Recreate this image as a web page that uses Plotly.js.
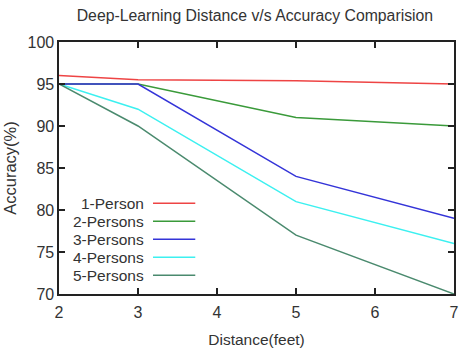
<!DOCTYPE html>
<html>
<head>
<meta charset="utf-8">
<script src="https://cdn.plot.ly/plotly-3.0.1.min.js"></script>
<style>html,body{margin:0;padding:0;background:#fff;}#chart{width:461px;height:350px;}</style>
</head>
<body>
<div id="chart"></div>
<script>
// Distances (feet) at which accuracy was measured
const distances = [2, 3, 5, 7];

// Accuracy (%) per number of persons in frame
const onePerson    = [96, 95.5, 95.4, 95];
const twoPersons   = [95, 95, 91, 90];
const threePersons = [95, 95, 84, 79];
const fourPersons  = [95, 92, 81, 76];
const fivePersons  = [95, 90, 77, 70];

const seriesNames  = ['1-Person', '2-Persons', '3-Persons', '4-Persons', '5-Persons'];
const seriesValues = [onePerson, twoPersons, threePersons, fourPersons, fivePersons];
const seriesColors = ['#ee4444', '#3a9a3a', '#3434d8', '#3cf0f0', '#4a8a6e'];

const xTicks = [2, 3, 4, 5, 6, 7];
const yTicks = [70, 75, 80, 85, 90, 95, 100];

const FONT = 'Liberation Sans, Arial, sans-serif';
const INK = '#333';

const traces = seriesNames.map((name, i) => ({
  x: distances,
  y: seriesValues[i],
  name: name,
  type: 'scatter',
  mode: 'lines',
  line: {color: seriesColors[i], width: 1.5},
  showlegend: false
}));

// Key in the lower-left corner: label on the left, line sample on the right
const keyTop = 0.36, keyStep = 0.0715;
const annotations = [];
const shapes = [];
seriesNames.forEach((name, i) => {
  const yy = keyTop - i * keyStep;
  annotations.push({
    xref: 'paper', yref: 'paper', x: 0.219, y: yy,
    xanchor: 'right', yanchor: 'middle', showarrow: false,
    text: name, font: {family: FONT, size: 15.5, color: INK}
  });
  shapes.push({
    type: 'line', xref: 'paper', yref: 'paper',
    x0: 0.238, x1: 0.345, y0: yy, y1: yy,
    line: {color: seriesColors[i], width: 1.5}
  });
});

const axisCommon = {
  showline: true, mirror: 'allticks', linecolor: '#222', linewidth: 1.6,
  ticks: 'inside', ticklen: 6, tickwidth: 1.2, tickcolor: '#222',
  showgrid: false, zeroline: false,
  tickfont: {family: FONT, size: 16, color: INK}
};

const layout = {
  width: 461, height: 350,
  margin: {l: 59, r: 7, t: 42, b: 56},
  paper_bgcolor: '#fff', plot_bgcolor: '#fff',
  title: {
    text: 'Deep-Learning Distance v/s Accuracy Comparision',
    font: {family: FONT, size: 15.8, color: INK},
    x: 0.553, xanchor: 'center', y: 0.956, yanchor: 'middle'
  },
  xaxis: Object.assign({}, axisCommon, {
    range: [2, 7], tickvals: xTicks, ticktext: xTicks.map(String),
    ticklabelstandoff: 3,
    title: {text: 'Distance(feet)', font: {family: FONT, size: 15.5, color: INK}, standoff: 14}
  }),
  yaxis: Object.assign({}, axisCommon, {
    range: [70, 100], tickvals: yTicks, ticktext: yTicks.map(String),
    title: {text: 'Accuracy(%)', font: {family: FONT, size: 16.5, color: INK}, standoff: 7}
  }),
  annotations: annotations,
  shapes: shapes
};

Plotly.newPlot('chart', traces, layout, {displayModeBar: false, staticPlot: true});
</script>
</body>
</html>
